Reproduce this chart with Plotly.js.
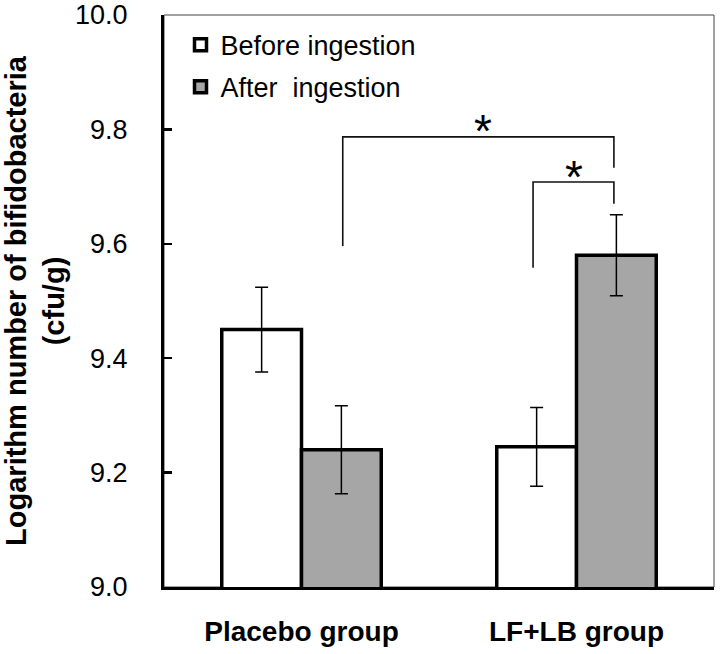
<!DOCTYPE html>
<html>
<head>
<meta charset="utf-8">
<script src="https://cdn.plot.ly/plotly-3.0.1.min.js"></script>
<style>html,body{margin:0;padding:0;background:#fff;}#chart{width:720px;height:654px;}</style>
</head>
<body>
<div id="chart"></div>
<script>
// ---- data ----
const groups = ['Placebo group', 'LF+LB group'];
const beforeValues = [9.45, 9.245];
const beforeErrors = [0.074, 0.069];
const afterValues = [9.24, 9.58];
const afterErrors = [0.077, 0.071];
const seriesNames = ['Before ingestion', 'After  ingestion'];
const yTickValues = [9.0, 9.2, 9.4, 9.6, 9.8, 10.0];
const yTickLabels = ['9.0', '9.2', '9.4', '9.6', '9.8', '10.0'];

const FONT = 'Liberation Sans, Arial, Helvetica, sans-serif';

const traceBefore = {
  type: 'bar', name: seriesNames[0], x: groups, y: beforeValues,
  marker: {color: '#ffffff', line: {color: '#000000', width: 3.5}},
  error_y: {type: 'data', array: beforeErrors, visible: true, color: '#000000', thickness: 1.5, width: 6.5},
  legendgroup: 'a'
};
const traceAfter = {
  type: 'bar', name: seriesNames[1], x: groups, y: afterValues,
  marker: {color: '#a6a6a6', line: {color: '#000000', width: 3.5}},
  error_y: {type: 'data', array: afterErrors, visible: true, color: '#000000', thickness: 1.5, width: 6.5},
  legendgroup: 'b'
};

// significance brackets (annotation geometry)
const brk = {color: '#111111', width: 1.6};
const shapes = [
  {type: 'rect', xref: 'paper', yref: 'paper', x0: 0, x1: 1, y0: 0, y1: 1, line: {color: '#444', width: 1}, layer: 'below'},
  {type: 'path', xref: 'x', yref: 'y', path: 'M 0.15 9.596 L 0.15 9.787 L 1.136 9.787 L 1.136 9.733', line: brk},
  {type: 'path', xref: 'x', yref: 'y', path: 'M 0.842 9.558 L 0.842 9.708 L 1.136 9.708 L 1.136 9.670', line: brk}
];
const annotations = [
  {x: 0.66, y: 9.787, xref: 'x', yref: 'y', text: '*', showarrow: false, yanchor: 'middle', yshift: 6, font: {family: FONT, size: 46, color: '#000'}},
  {x: 0.991, y: 9.708, xref: 'x', yref: 'y', text: '*', showarrow: false, yanchor: 'middle', yshift: 5, font: {family: FONT, size: 46, color: '#000'}}
];

const layout = {
  width: 720, height: 654,
  margin: {l: 164, r: 6, t: 15, b: 67},
  paper_bgcolor: '#fff', plot_bgcolor: '#fff',
  font: {family: FONT, size: 27, color: '#000'},
  barmode: 'group', bargap: 0.42, bargroupgap: 0,
  showlegend: true,
  legend: {x: 0.03, y: 0.99, xanchor: 'left', yanchor: 'top', bgcolor: 'rgba(0,0,0,0)',
           font: {family: FONT, size: 27}, traceorder: 'grouped', tracegroupgap: 4},
  xaxis: {
    type: 'category', range: [-0.5, 1.5], showgrid: false, zeroline: false,
    showline: true, linecolor: '#000', linewidth: 3, ticks: '',
    tickfont: {family: FONT, size: 28, weight: 'bold'}, ticklabelstandoff: 17
  },
  yaxis: {
    range: [9.0, 10.0], showgrid: false, zeroline: false,
    showline: true, linecolor: '#000', linewidth: 3,
    ticks: 'inside', ticklen: 8, tickwidth: 2.5, tickcolor: '#000',
    tickvals: yTickValues, ticktext: yTickLabels,
    tickfont: {family: FONT, size: 27}, ticklabelstandoff: 28,
    title: {text: 'Logarithm number of bifidobacteria<br>(cfu/g)', font: {family: FONT, size: 29, weight: 'bold'}, standoff: 14}
  },
  shapes: shapes,
  annotations: annotations
};

Plotly.newPlot('chart', [traceBefore, traceAfter], layout, {displayModeBar: false, staticPlot: true});
</script>
</body>
</html>
